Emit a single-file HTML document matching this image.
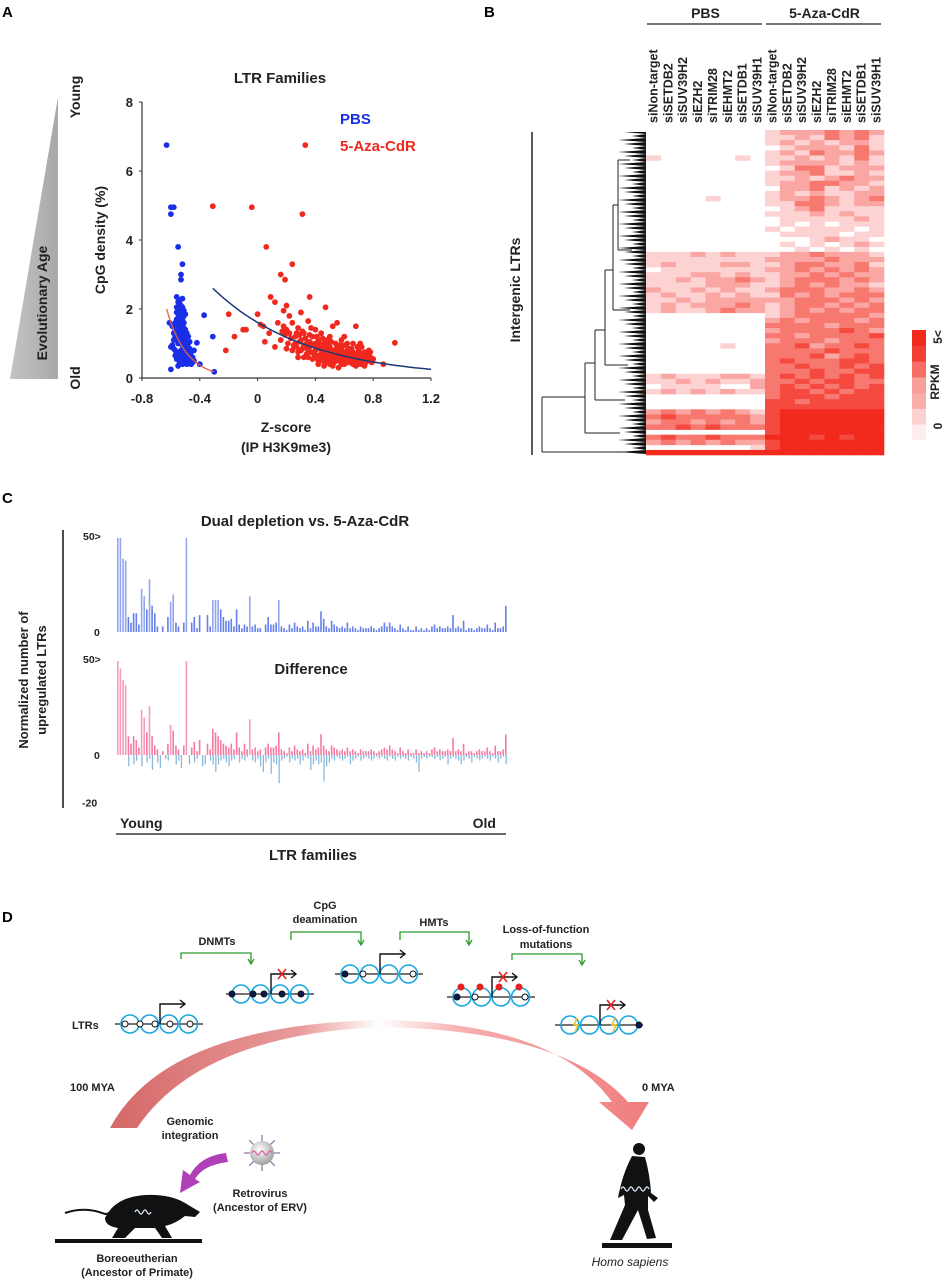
<!DOCTYPE html>
<html><head><meta charset="utf-8"><style>
html,body{margin:0;padding:0;background:#fff}
svg{display:block;font-family:"Liberation Sans",Arial,sans-serif;font-weight:bold}
</style></head><body>
<svg id="fig" width="944" height="1280" viewBox="0 0 944 1280" xmlns="http://www.w3.org/2000/svg">
<defs>
<linearGradient id="arcg" x1="110" y1="0" x2="650" y2="0" gradientUnits="userSpaceOnUse">
<stop offset="0" stop-color="#d46868"/><stop offset="0.35" stop-color="#e99a9a"/><stop offset="0.5" stop-color="#ffffff"/><stop offset="0.65" stop-color="#f7b0b0"/><stop offset="1" stop-color="#f07c7c"/></linearGradient>
<radialGradient id="virg" cx="0.4" cy="0.35" r="0.7"><stop offset="0" stop-color="#fff"/><stop offset="1" stop-color="#9a9a9a"/></radialGradient>
<linearGradient id="tri" x1="0" y1="0" x2="1" y2="0"><stop offset="0" stop-color="#c4c4c4"/><stop offset="1" stop-color="#a8a8a8"/></linearGradient>
</defs>
<g id="pA"></g>
<g id="pB"></g>
<g id="pC"></g>
<g id="pD"></g>
</svg>
<script>
// ---------- Panel A data ----------
const aXTicks = [-0.8,-0.4,0,0.4,0.8,1.2];
const aXTickLabels = ["-0.8","-0.4","0","0.4","0.8","1.2"];
const aYTicks = [0,2,4,6,8];
const aYTickLabels = ["0","2","4","6","8"];
const pbsPoints = [[-0.63,6.75],[-0.60,4.95],[-0.58,4.95],[-0.60,4.75],[-0.55,3.80],[-0.52,3.30],[-0.53,3.00],[-0.53,2.85],[-0.37,1.82],[-0.31,1.20],[-0.60,0.25],[-0.30,0.18],
[-0.56,2.35],[-0.55,2.20],[-0.54,2.15],[-0.53,2.10],[-0.52,2.30],[-0.51,1.95],[-0.50,1.85],[-0.57,1.60],[-0.56,1.70],[-0.55,1.75],[-0.54,1.65],[-0.53,1.55],[-0.52,1.50],[-0.51,1.45],[-0.50,1.40],[-0.49,1.30],[-0.48,1.20],[-0.47,1.05],
[-0.58,1.30],[-0.57,1.20],[-0.56,1.10],[-0.55,1.00],[-0.54,1.35],[-0.53,1.25],[-0.52,1.15],[-0.51,1.05],[-0.50,0.95],[-0.49,0.90],[-0.48,0.80],[-0.46,0.75],[-0.45,0.60],[-0.44,0.50],
[-0.59,0.95],[-0.58,0.85],[-0.57,0.80],[-0.56,0.75],[-0.55,0.70],[-0.54,0.65],[-0.53,0.60],[-0.52,0.55],[-0.51,0.50],[-0.50,0.45],[-0.49,0.40],[-0.47,0.45],[-0.46,0.40],[-0.42,1.02],[-0.40,0.40],
[-0.61,1.60],[-0.60,0.90],[-0.55,0.35],[-0.54,0.45],[-0.52,0.40],[-0.50,0.85],[-0.48,0.65],[-0.53,2.00],[-0.51,1.80],[-0.56,1.90],[-0.49,0.60],[-0.54,1.20],[-0.52,0.95],[-0.50,1.10],[-0.55,1.45],[-0.53,0.80],
[-0.57,1.40],[-0.56,1.50],[-0.55,1.60],[-0.54,1.80],[-0.53,1.70],[-0.52,1.85],[-0.51,1.60],[-0.50,1.25],[-0.49,1.10],[-0.48,1.00],[-0.47,0.85],[-0.46,0.60],[-0.55,1.25],[-0.54,1.05],[-0.53,1.40],[-0.52,1.70],[-0.51,1.30],[-0.50,0.70],[-0.49,0.55],[-0.48,0.45],[-0.47,0.65],[-0.56,0.55],[-0.57,0.65],[-0.58,1.10],[-0.52,2.05],[-0.54,2.25],[-0.55,1.95],[-0.51,0.75],[-0.53,0.45],[-0.50,0.60],[-0.45,0.45],[-0.44,0.80],[-0.59,1.50],[-0.56,2.05],[-0.53,1.10]];
const azaPoints = [[0.33,6.75],[-0.31,4.98],[-0.04,4.95],[0.31,4.75],[0.06,3.8],[0.24,3.3],[0.16,3.0],[0.19,2.85],[0.36,2.35],[0.47,2.05],[0.09,2.35],[0.12,2.2],[0.2,2.1],[0.18,1.95],[0.3,1.9],[-0.2,1.85],[0.0,1.85],[0.22,1.8],[-0.22,0.8],[-0.16,1.2],[-0.1,1.4],[-0.08,1.4],[0.04,1.5],[0.02,1.55],[0.05,1.05],[0.95,1.02],[0.87,0.4],[0.08,1.3],[0.12,0.9],[0.14,1.6],[0.18,1.5],[0.2,1.4],[0.22,1.3],[0.24,1.6],[0.26,1.2],[0.28,1.45],[0.3,1.1],[0.32,1.3],[0.34,1.0],[0.35,1.65],[0.36,0.9],[0.38,1.2],[0.4,0.8],[0.42,1.1],[0.44,0.7],[0.46,1.0],[0.48,0.6],[0.5,0.9],[0.52,1.5],[0.54,0.7],[0.55,1.6],[0.56,0.5],[0.58,0.85],[0.6,0.6],[0.62,1.0],[0.64,0.45],[0.66,0.75],[0.68,1.5],[0.7,0.55],[0.72,0.9],[0.74,0.5],[0.76,0.7],[0.78,0.6],[0.8,0.55],[0.3,0.8],[0.34,0.7],[0.38,0.55],[0.42,0.5],[0.45,0.85],[0.48,0.45],[0.5,0.4],[0.52,0.55],[0.56,0.3],[0.6,0.4],[0.64,0.65],[0.68,0.35],[0.72,0.4],[0.25,0.95],[0.28,0.75],[0.4,1.4],[0.44,1.3],[0.5,1.2],[0.58,1.1],[0.62,0.8],[0.66,1.0],[0.7,0.8],[0.74,0.35],[0.2,0.85],[0.16,1.1],[0.35,0.6],[0.46,0.65],[0.54,1.0],[0.6,0.95],[0.4,1.0],[0.45,1.15],[0.55,0.8],[0.65,0.6],[0.75,0.6],[0.36,1.25],[0.32,0.95],
[0.26,1.0],[0.27,0.9],[0.29,1.05],[0.31,0.85],[0.33,0.9],[0.35,0.8],[0.37,1.0],[0.39,0.7],[0.41,0.95],[0.43,0.6],[0.45,0.75],[0.47,0.9],[0.49,0.7],[0.51,0.65],[0.53,0.8],[0.55,0.55],[0.57,0.7],[0.59,0.5],[0.61,0.7],[0.63,0.55],[0.65,0.85],[0.67,0.6],[0.69,0.7],[0.71,0.45],[0.73,0.65],[0.75,0.45],[0.77,0.8],[0.79,0.45],[0.29,1.25],[0.33,1.15],[0.37,0.75],[0.41,0.65],[0.43,0.85],[0.47,0.55],[0.49,1.0],[0.51,0.8],[0.53,0.45],[0.57,0.95],[0.59,0.75],[0.61,0.55],[0.63,0.85],[0.67,0.45],[0.69,0.9],[0.71,1.0],[0.73,0.55],[0.39,0.95],[0.41,1.2],[0.43,1.0],[0.45,0.5],[0.47,0.75],[0.49,0.85],[0.51,1.05],[0.53,0.65],[0.55,0.9],[0.57,0.6],[0.23,1.15],[0.21,1.0],[0.19,1.25],[0.17,1.35],[0.27,1.3],[0.31,1.35],[0.37,1.45],[0.42,0.4],[0.46,0.35],[0.52,0.35],[0.58,0.4],[0.62,0.45],[0.66,0.5],[0.7,0.65],[0.76,0.5],[0.78,0.75],[0.56,0.65],[0.48,1.1],[0.44,0.95],[0.40,0.6],[0.36,1.05],[0.32,0.6],[0.28,0.6],[0.24,0.8],[0.6,1.2],[0.64,0.75],[0.68,0.55],[0.72,0.7],[0.5,0.55],[0.54,0.6],[0.58,0.55],[0.62,0.65],[0.66,0.4],[0.7,0.4],[0.74,0.75]];
const azaFit = [2.6, 1.55, -0.31, 1.2];   // amplitude, decay, xStart, xEnd
const pbsFit = [2.0, 7.3, -0.63, -0.30];

// ---------- Panel B data ----------
const bColumns = ["siNon-target","siSETDB2","siSUV39H2","siEZH2","siTRIM28","siEHMT2","siSETDB1","siSUV39H1","siNon-target","siSETDB2","siSUV39H2","siEZH2","siTRIM28","siEHMT2","siSETDB1","siSUV39H1"];
const bGroups = ["PBS","5-Aza-CdR"];
const bRows = ["0000000012223232","0000000011213231","0000000012121221","0000000001222131","0000000012132232","1000001011212131","0000000012222121","0000000001331222","0000000012231121","0000000011212322","0000000012233221","0000000002231212","0000000012121122","0000100012232123","0000000011332122","0000000001231111","0000000011121211","0000000001111121","0000000001010111","0000000010111101","0000000001111011","0000000000012110","0000000001010121","0000000000101010","1112121112232221","1111111122223222","1211122112332231","0111111122323232","1112212112232322","1121223212333232","1111222112323221","2112121123332232","1211212113232333","1121222222333232","1212223212332323","1211232212323233","0000000012333332","0000000023233323","0000000033332333","0000000023333432","0000000033233334","0000000023332333","0000010033423343","0000000033334333","0000000033342343","0000000034333443","0000000033433434","0000000033343344","1211122134343434","1121211233434433","0111100234343434","1212121134434344","0000000034443444","0000000044344444","0000000044444444","2323232145555555","3433333245555555","2332323245555555","3343433345555555","0000000045555555","3433433355545455","2323232245555555","0000000145555555","5555555555555555"];
const bLegendLabels = ["5<","0"];

// ---------- Panel C data ----------
const cTopTicks = [0,50];
const cTopTickLabels = ["0","50>"];
const cBotTicks = [-20,0,50];
const cBotTickLabels = ["-20","0","50>"];
const dualVals = [50,50,39,38,8,5,10,10,4,23,19,12,28,14,10,3,0,3,0,8,16,20,5,3,0,5,50,0,5,8,2,9,0,0,9,3,17,17,17,12,8,6,6,7,3,12,4,2,4,3,19,3,4,2,2,0,4,8,4,4,5,17,3,2,1,4,2,5,3,2,3,1,6,2,5,3,3,11,7,3,2,6,4,3,2,3,2,5,2,3,2,1,3,2,2,2,3,2,1,2,3,5,3,5,3,2,1,4,2,1,3,1,1,3,1,2,1,2,1,3,4,2,3,2,2,3,2,9,2,3,2,6,1,2,2,1,2,3,2,2,4,2,1,5,2,2,3,14];
const diffPos = [50,46,40,37,10,6,10,8,4,24,20,12,26,10,5,3,0,2,0,6,16,13,5,3,0,5,50,0,4,7,2,8,0,0,6,3,14,12,10,8,6,5,4,6,3,12,4,2,6,3,19,3,4,2,3,0,4,6,4,4,5,12,3,2,1,4,2,5,3,2,3,1,6,2,5,3,4,11,5,3,2,5,4,3,2,3,2,4,2,3,2,1,3,2,2,2,3,2,1,2,3,4,3,5,3,2,1,4,2,1,3,1,1,3,1,2,1,2,1,3,4,2,3,2,2,3,2,9,2,3,2,6,1,2,2,1,2,3,2,2,4,2,1,5,2,2,3,11];
const diffNeg = [0,0,0,0,-6,0,-5,-3,0,-6,0,-4,-2,-8,0,-4,-7,0,-2,-3,0,0,-5,-3,-7,0,0,-5,0,-4,-2,0,-6,-5,0,-3,-5,-9,-5,-3,-2,-4,-6,-3,-2,0,-4,-2,-3,-1,0,-3,-4,-2,-6,-9,-4,-2,-10,-4,-5,-15,-3,-2,-1,-4,-2,-3,-2,-5,-3,-1,-2,-8,-5,-3,-5,-4,-14,-6,-4,-2,-3,-1,-2,-3,-2,-1,-5,-3,-2,-1,-3,-2,-1,-2,-3,-2,-1,-2,-1,-2,-3,-1,-2,-3,-1,-2,-1,-2,-3,-1,-2,-4,-9,-2,-1,-2,-1,-1,-2,-1,-3,-2,-1,-5,-2,-1,-2,-3,-5,-3,-1,-2,-4,-1,-2,-3,-2,-1,-2,-3,-1,-2,-4,-2,-1,-5];

const NS="http://www.w3.org/2000/svg";
function mk(parent, tag, attrs, txt){const e=document.createElementNS(NS,tag);for(const k in attrs)e.setAttribute(k,attrs[k]);if(txt!==undefined)e.textContent=txt;parent.appendChild(e);return e;}

// ================= PANEL A =================
(function(){
const g=document.getElementById('pA');
const xA=v=>142+(v+0.8)*(289/2.0);
const yA=v=>378-v*(276/8);
let t;
t=mk(g,'text',{x:2,y:17,'font-size':15},'A');


const tri=mk(g,'polygon',{points:'10,379 58,97 58,379',fill:'url(#tri)'});


t=mk(g,'text',{x:47,y:303,'font-size':14,'text-anchor':'middle',transform:'rotate(-90 47 303)',fill:'#222'},'Evolutionary Age');


t=mk(g,'text',{x:80,y:97,'font-size':14,'text-anchor':'middle',transform:'rotate(-90 80 97)',fill:'#222'},'Young');


t=mk(g,'text',{x:80,y:378,'font-size':14,'text-anchor':'middle',transform:'rotate(-90 80 378)',fill:'#222'},'Old');


t=mk(g,'text',{x:280,y:83,'font-size':15,'text-anchor':'middle',fill:'#222'},'LTR Families');


t=mk(g,'text',{x:105,y:240,'font-size':14,'text-anchor':'middle',transform:'rotate(-90 105 240)',fill:'#222'},'CpG density (%)');


t=mk(g,'text',{x:286,y:432,'font-size':14,'text-anchor':'middle',fill:'#222'},'Z-score');


t=mk(g,'text',{x:286,y:452,'font-size':14,'text-anchor':'middle',fill:'#222'},'(IP H3K9me3)');


let ax=mk(g,'path',{d:`M142,${yA(8)} V378 H${xA(1.2)}`,stroke:'#333','stroke-width':1.2,fill:'none'});


aYTicks.forEach((v,i)=>{const l=mk(g,'line',{x1:139,x2:142,y1:yA(v),y2:yA(v),stroke:'#333'});


const tt=mk(g,'text',{x:133,y:yA(v)+5,'font-size':13,'text-anchor':'end',fill:'#222'},aYTickLabels[i]);

});
aXTicks.forEach((v,i)=>{const l=mk(g,'line',{x1:xA(v),x2:xA(v),y1:378,y2:381,stroke:'#333'});


const tt=mk(g,'text',{x:xA(v),y:403,'font-size':13,'text-anchor':'middle',fill:'#222'},aXTickLabels[i]);

});
azaPoints.forEach(p=>{const c=mk(g,'circle',{cx:xA(p[0]),cy:yA(p[1]),r:2.9,fill:'#f0281e'});

});
pbsPoints.forEach(p=>{const c=mk(g,'circle',{cx:xA(p[0]),cy:yA(p[1]),r:2.9,fill:'#1a2ee8'});

});
function fitPath(f){let d='';for(let k=0;k<=40;k++){const x=f[2]+(f[3]-f[2])*k/40;const y=f[0]*Math.exp(-f[1]*(x-f[2]));d+=(k?'L':'M')+xA(x).toFixed(1)+','+yA(y).toFixed(1);}return d;}
let fl=mk(g,'path',{d:fitPath(azaFit),stroke:'#1c3a78','stroke-width':1.5,fill:'none'});


fl=mk(g,'path',{d:fitPath(pbsFit),stroke:'#e0604a','stroke-width':1.3,fill:'none'});


t=mk(g,'text',{x:340,y:124,'font-size':15,fill:'#1a2ee8'},'PBS');


t=mk(g,'text',{x:340,y:151,'font-size':15,fill:'#f0281e'},'5-Aza-CdR');


})();

// ================= PANEL B =================
(function(){
const g=document.getElementById('pB');
const hx0=646,hx1=884,hy0=130,hy1=455;
const cw=(hx1-hx0)/bColumns.length, rh=(hy1-hy0)/bRows.length;
const cols=['#ffffff','#fcd2d2','#faa6a3','#f7786f','#f44a3f','#f22a1e'];
let t=mk(g,'text',{x:484,y:17,'font-size':15},'B');


bGroups.forEach((name,gi)=>{const x0=hx0+gi*8*cw, x1=x0+8*cw;
const tt=mk(g,'text',{x:(x0+x1)/2,y:18,'font-size':14,'text-anchor':'middle',fill:'#222'},name);


const l=mk(g,'line',{x1:x0+1,x2:x1-3,y1:24,y2:24,stroke:'#222','stroke-width':1.3});

});
bColumns.forEach((name,j)=>{const cx=hx0+cw*(j+0.5)+4;
const tt=mk(g,'text',{x:cx,y:123,'font-size':12.5,transform:`rotate(-90 ${cx} 123)`,fill:'#222'},name);

});
bRows.forEach((row,i)=>{for(let j=0;j<row.length;j++){const v=+row[j];if(!v)continue;
const r=mk(g,'rect',{x:(hx0+j*cw).toFixed(2),y:(hy0+i*rh).toFixed(2),width:(cw+0.3).toFixed(2),height:(rh+0.3).toFixed(2),fill:cols[v]});

}});
let d='M542,452 V397 M542,452 H646 M542,397 H585 M585,433 V363 M585,433 H620 M585,363 H595 M595,400 V330 M595,400 H625 M595,330 H605 M605,365 V270 M605,365 H628 M605,270 H613 M613,310 V205 M613,310 H630 M613,205 H618 M618,250 V160 M618,250 H632 M618,160 H630';
let dg=mk(g,'path',{d:d,stroke:'#222','stroke-width':1,fill:'none'});


let jag='M646,132 ';for(let y=132;y<=455;y+=4){const w=(y%12<4)?22:(y%12<8?14:28);jag+=`L${646-w},${y} L646,${y+2} `;}jag+='L646,455 Z';
let dj=mk(g,'path',{d:jag,fill:'#111'});


let vl=mk(g,'line',{x1:532,x2:532,y1:132,y2:455,stroke:'#222','stroke-width':1.5});


t=mk(g,'text',{x:520,y:290,'font-size':14,'text-anchor':'middle',transform:'rotate(-90 520 290)',fill:'#222'},'Intergenic LTRs');


for(let k=0;k<7;k++){const r=mk(g,'rect',{x:912,y:330+k*(110/7),width:14,height:110/7+0.3,fill:cols[Math.max(1,5-Math.floor(k*5/7))],opacity:(1-k*0.1)});

}
t=mk(g,'text',{x:942,y:337,'font-size':12,'text-anchor':'middle',transform:'rotate(-90 942 337)',fill:'#222'},bLegendLabels[0]);


t=mk(g,'text',{x:942,y:426,'font-size':12,'text-anchor':'middle',transform:'rotate(-90 942 426)',fill:'#222'},bLegendLabels[1]);


t=mk(g,'text',{x:939,y:382,'font-size':12,'text-anchor':'middle',transform:'rotate(-90 939 382)',fill:'#222'},'RPKM');


})();

// ================= PANEL C =================
(function(){
const g=document.getElementById('pC');
const n=dualVals.length;
const xC=i=>117+i*(388/(n-1));
const yTop=v=>632-v*(94/50);
const yBot=v=>755-v*(94/50);
let t=mk(g,'text',{x:2,y:503,'font-size':15},'C');


t=mk(g,'text',{x:305,y:526,'font-size':15,'text-anchor':'middle',fill:'#222'},'Dual depletion vs. 5-Aza-CdR');


t=mk(g,'text',{x:311,y:674,'font-size':15,'text-anchor':'middle',fill:'#222'},'Difference');


let l=mk(g,'line',{x1:63,x2:63,y1:530,y2:808,stroke:'#111','stroke-width':1.5});


t=mk(g,'text',{x:28,y:680,'font-size':13,'text-anchor':'middle',transform:'rotate(-90 28 680)',fill:'#222'},'Normalized number of');


t=mk(g,'text',{x:46,y:680,'font-size':13,'text-anchor':'middle',transform:'rotate(-90 46 680)',fill:'#222'},'upregulated LTRs');


cTopTicks.forEach((v,i)=>{const tt=mk(g,'text',{x:v>0?83:94,y:yTop(v)+4+(v>0?-2:0),'font-size':10.5,fill:'#222'},cTopTickLabels[i]);

});
cBotTicks.forEach((v,i)=>{const tt=mk(g,'text',{x:v>0?83:(v<0?82:94),y:yBot(v)+4+(v>0?-2:(v<0?10:0)),'font-size':10.5,fill:'#222'},cBotTickLabels[i]);

});
dualVals.forEach((v,i)=>{if(!v)return;const r=mk(g,'rect',{x:xC(i).toFixed(1),y:yTop(v).toFixed(1),width:1.6,height:(632-yTop(v)).toFixed(1),fill:'#4a6ae6',opacity:v>15?0.6:0.85});

});
diffPos.forEach((v,i)=>{if(!v)return;const r=mk(g,'rect',{x:xC(i).toFixed(1),y:yBot(v).toFixed(1),width:1.6,height:(755-yBot(v)).toFixed(1),fill:'#f25a8a',opacity:v>15?0.6:0.8});

});
diffNeg.forEach((v,i)=>{if(!v)return;const r=mk(g,'rect',{x:(xC(i)+0.5).toFixed(1),y:755,width:1.3,height:(yBot(v)-755).toFixed(1),fill:'#8ab8dc'});

});
t=mk(g,'text',{x:120,y:828,'font-size':14,fill:'#222'},'Young');


t=mk(g,'text',{x:496,y:828,'font-size':14,'text-anchor':'end',fill:'#222'},'Old');


l=mk(g,'line',{x1:116,x2:506,y1:834,y2:834,stroke:'#111','stroke-width':1.3});


t=mk(g,'text',{x:313,y:860,'font-size':15,'text-anchor':'middle',fill:'#222'},'LTR families');


})();

// ================= PANEL D =================
(function(){
const g=document.getElementById('pD');
let t=mk(g,'text',{x:2,y:922,'font-size':15},'D');


function lab(x,y,s,name){const tt=mk(g,'text',{x:x,y:y,'font-size':11,'text-anchor':'middle',fill:'#222'},s);

}
lab(217,945,'DNMTs','dnmts-label');
lab(325,909,'CpG','cpg-label');
lab(325,923,'deamination','deamination-label');
lab(434,926,'HMTs','hmts-label');
lab(546,933,'Loss-of-function','lof-label');
lab(546,948,'mutations','mutations-label');
function bracket(x0,x1,y0,y1,name){const p=mk(g,'path',{d:`M${x0},${y1-4} V${y0} H${x1} V${y1}`,stroke:'#2a9a2a','stroke-width':1.3,fill:'none'});


const a=mk(g,'path',{d:`M${x1-3},${y1-4} L${x1},${y1+1} L${x1+3},${y1-4}`,stroke:'#2a9a2a','stroke-width':1.3,fill:'none'});

}
bracket(181,251,953,963,'dnmts-arrow');
bracket(291,361,932,944,'cpg-arrow');
bracket(400,469,932,944,'hmts-arrow');
bracket(512,582,954,964,'lof-arrow');
function construct(x,y,marks,blocked,name){const gg=mk(g,'g',{});


mk(gg,'line',{x1:x,x2:x+88,y1:y,y2:y,stroke:'#222','stroke-width':1.2});
for(let k=0;k<4;k++)mk(gg,'circle',{cx:x+15+k*19.5,cy:y,r:9,fill:'none',stroke:'#1aa8e0','stroke-width':1.6});
marks.forEach(m=>{mk(gg,'circle',{cx:x+m[0],cy:y,r:3,fill:m[1],stroke:'#111','stroke-width':1});});
const ax=x+45;mk(gg,'path',{d:`M${ax},${y} V${y-20} H${ax+24}`,stroke:'#111','stroke-width':1.4,fill:'none'});
mk(gg,'path',{d:`M${ax+20},${y-24} L${ax+25},${y-20} L${ax+20},${y-16}`,stroke:'#111','stroke-width':1.4,fill:'none'});
if(blocked){mk(gg,'path',{d:`M${ax+7},${y-25} L${ax+15},${y-15} M${ax+15},${y-25} L${ax+7},${y-15}`,stroke:'#e82020','stroke-width':1.6});}
return gg;}
construct(115,1024,[[10,'#fff'],[25,'#fff'],[40,'#fff'],[55,'#fff'],[75,'#fff']],false,'ltr-construct-1');
construct(226,994,[[6,'#0a1a50'],[27,'#0a1a50'],[38,'#0a1a50'],[56,'#0a1a50'],[75,'#0a1a50']],true,'ltr-construct-dnmt');
construct(335,974,[[10,'#0a1a50'],[28,'#fff'],[78,'#fff']],false,'ltr-construct-deamination');
const c4=construct(447,997,[[10,'#0a1a50'],[28,'#fff'],[78,'#fff']],true,'ltr-construct-hmt');
[[14,987],[33,987],[52,987],[72,987]].forEach(p=>{mk(c4,'circle',{cx:447+p[0],cy:p[1],r:3.5,fill:'#e82020'});});
const c5=construct(555,1025,[[84,'#0a1a50']],true,'ltr-construct-mutation');
[[22],[60]].forEach(p=>{mk(c5,'path',{d:`M${555+p[0]},1018 l-3,7 h4 l-3,7`,stroke:'#e8c020','stroke-width':1.5,fill:'none'});});
t=mk(g,'text',{x:72,y:1029,'font-size':11,fill:'#222'},'LTRs');


const arc=mk(g,'path',{d:'M110,1128 Q165,1025 380,1020 Q555,1022 612,1102 L599,1102 L632,1130 L649,1102 L628,1102 Q565,1030 380,1027 Q200,1035 137,1128 Z',fill:'url(#arcg)'});


t=mk(g,'text',{x:70,y:1091,'font-size':11,fill:'#222'},'100 MYA');


t=mk(g,'text',{x:642,y:1091,'font-size':11,fill:'#222'},'0 MYA');


lab(190,1125,'Genomic','genomic-label');
lab(190,1139,'integration','integration-label');
lab(260,1197,'Retrovirus','retrovirus-label');
lab(260,1211,'(Ancestor of ERV)','retrovirus-sub-label');
lab(137,1262,'Boreoeutherian','boreoeutherian-label');
lab(137,1276,'(Ancestor of Primate)','boreoeutherian-sub-label');
t=mk(g,'text',{x:630,y:1266,'font-size':12,'text-anchor':'middle','font-style':'italic','font-weight':'normal',fill:'#222'},'Homo sapiens');


const vg=mk(g,'g',{});


for(let k=0;k<8;k++){const a=k*Math.PI/4;mk(vg,'line',{x1:262+Math.cos(a)*11,y1:1153+Math.sin(a)*11,x2:262+Math.cos(a)*18,y2:1153+Math.sin(a)*18,stroke:'#8a70a8','stroke-width':1.2});}
mk(vg,'circle',{cx:262,cy:1153,r:12,fill:'url(#virg)'});
mk(vg,'path',{d:'M252,1153 q2,-4 4,0 t4,0 t4,0 t4,0 t4,0',stroke:'#e060a0','stroke-width':1.2,fill:'none'});
const pa=mk(g,'path',{d:'M226,1153 Q200,1156 190,1175 L183,1170 L180,1193 L200,1182 L195,1179 Q203,1165 228,1162 Z',fill:'#b040b8'});


const rg=mk(g,'g',{});


mk(rg,'path',{d:'M65,1213 Q85,1206 105,1214 L112,1213',stroke:'#111','stroke-width':2,fill:'none'});
mk(rg,'path',{d:'M105,1218 Q115,1197 145,1195 Q170,1194 185,1203 L200,1212 L195,1217 L185,1216 Q175,1224 165,1226 L172,1238 L162,1238 L155,1228 L135,1228 L125,1238 L112,1238 L118,1228 Q105,1226 105,1218 Z',fill:'#111'});
mk(rg,'path',{d:'M135,1212 q2,-4 4,0 t4,0 t4,0 t4,0',stroke:'#d8e8f8','stroke-width':1.3,fill:'none'});
mk(rg,'rect',{x:55,y:1239,width:147,height:4,fill:'#111'});
const hg=mk(g,'g',{});


mk(hg,'circle',{cx:639,cy:1149,r:6,fill:'#111'});
mk(hg,'path',{d:'M632,1156 L645,1157 Q650,1175 651,1193 L658,1198 L654,1202 L648,1196 L648,1210 L656,1238 L647,1239 L638,1210 L622,1240 L610,1240 L625,1205 L624,1195 L618,1198 Q622,1175 632,1156 Z',fill:'#111'});
mk(hg,'path',{d:'M621,1189 q2,-4 4,0 t4,0 t4,0 t4,0 t4,0 t4,0 t4,0',stroke:'#d8e8f8','stroke-width':1.3,fill:'none'});
mk(hg,'rect',{x:602,y:1243,width:70,height:5,fill:'#111'});
})();
</script>
</body></html>
